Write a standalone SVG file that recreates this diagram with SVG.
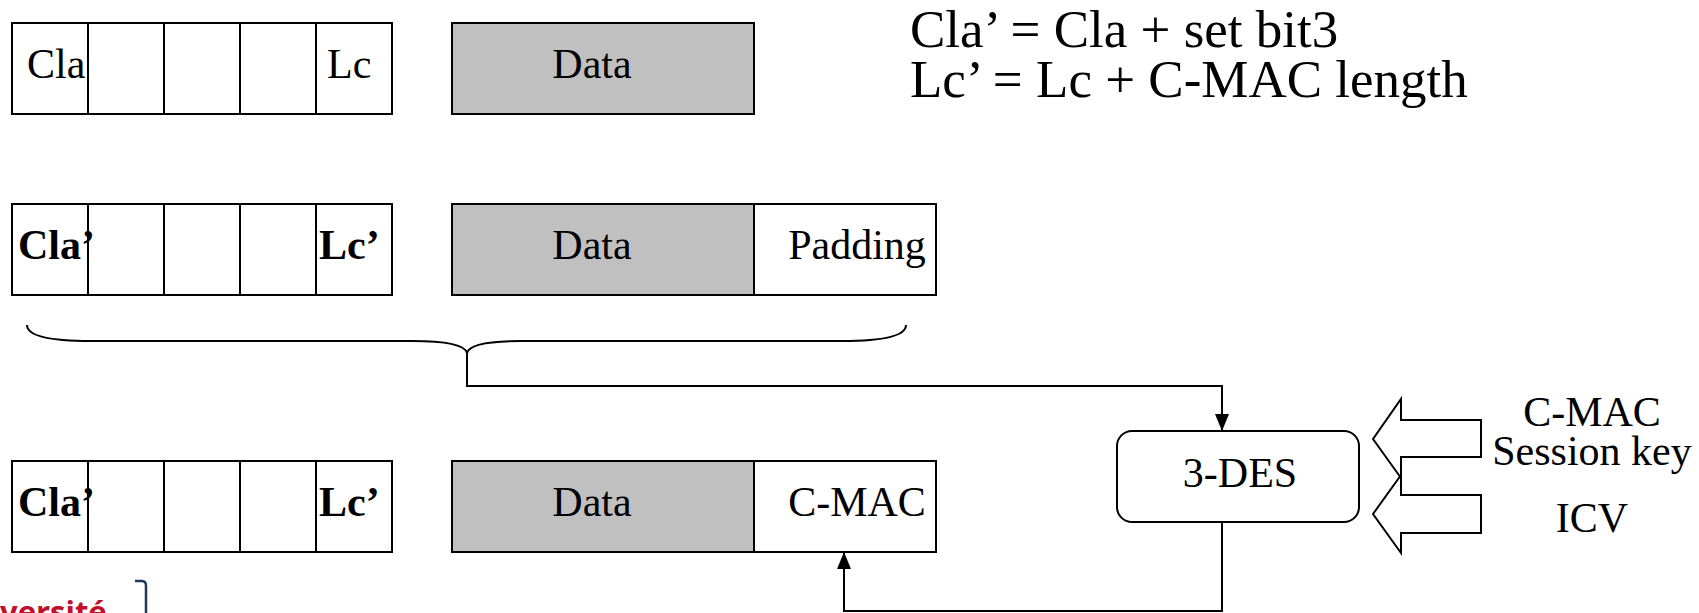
<svg xmlns="http://www.w3.org/2000/svg" width="1699" height="613" viewBox="0 0 1699 613">
<style>
.box{fill:#fff;stroke:#000;stroke-width:2}
.data{fill:#c0c0c0;stroke:#000;stroke-width:2}
.ln{fill:none;stroke:#000;stroke-width:2}
.t{font-family:"Liberation Serif","Times New Roman",serif;font-size:42px;fill:#000}
.b{font-weight:bold}
.big{font-family:"Liberation Serif","Times New Roman",serif;font-size:53px;fill:#000}
.m{text-anchor:middle}
</style>
<defs>
<marker id="ah" markerUnits="userSpaceOnUse" markerWidth="17" markerHeight="14" refX="17" refY="7" orient="auto">
<path d="M0,0 L17,7 L0,14 z" fill="#000"/>
</marker>
</defs>
<rect width="1699" height="613" fill="#fff"/>

<g id="row1">
<rect class="box" x="12" y="23" width="380" height="91"/>
<path class="ln" d="M88,23V114M164,23V114M240,23V114M316,23V114"/>
<text class="t" x="27" y="78">Cla</text>
<text class="t" x="327" y="78">Lc</text>
<rect class="data" x="452" y="23" width="302" height="91"/>
<text class="t m" x="592" y="78">Data</text>
</g>

<g id="formula">
<text class="big" x="910" y="47">Cla’ = Cla + set bit3</text>
<text class="big" x="910" y="97">Lc’ = Lc + C-MAC length</text>
</g>

<g id="row2">
<rect class="box" x="12" y="204" width="380" height="91"/>
<path class="ln" d="M88,204V295M164,204V295M240,204V295M316,204V295"/>
<text class="t b" x="18" y="259">Cla’</text>
<text class="t b" x="319" y="259">Lc’</text>
<rect class="data" x="452" y="204" width="302" height="91"/>
<text class="t m" x="592" y="259">Data</text>
<rect class="box" x="754" y="204" width="182" height="91"/>
<text class="t m" x="857" y="259">Padding</text>
</g>

<g id="brace">
<path class="ln" d="M27,325 C27,336 50,341 91,341 L412,341 C445,341 465,345 467,353 C469,345 489,341 521,341 L842,341 C883,341 906,336 906,325"/>
</g>

<g id="row3">
<rect class="box" x="12" y="461" width="380" height="91"/>
<path class="ln" d="M88,461V552M164,461V552M240,461V552M316,461V552"/>
<text class="t b" x="18" y="516">Cla’</text>
<text class="t b" x="319" y="516">Lc’</text>
<rect class="data" x="452" y="461" width="302" height="91"/>
<text class="t m" x="592" y="516">Data</text>
<rect class="box" x="754" y="461" width="182" height="91"/>
<text class="t m" x="857" y="516">C-MAC</text>
</g>

<g id="des">
<rect class="box" x="1117" y="431" width="242" height="91" rx="15" ry="15"/>
<text class="t m" x="1240" y="487">3-DES</text>
</g>

<g id="inputs">
<polygon class="ln" points="1373,439 1401,399 1401,420 1481,420 1481,457 1401,457 1401,478"/>
<polygon class="ln" points="1373,514 1401,475 1401,495 1481,495 1481,533 1401,533 1401,553"/>
<text class="t m" x="1592" y="426">C-MAC</text>
<text class="t m" x="1592" y="465">Session key</text>
<text class="t m" x="1592" y="532">ICV</text>
</g>

<g id="connectors">
<path class="ln" d="M467,353 V386 H1222 V431" marker-end="url(#ah)"/>
<path class="ln" d="M1222,522 V611 H844 V552" marker-end="url(#ah)"/>
</g>

<g id="logo">
<text x="0" y="623" font-family="'Open Sans','Liberation Sans',sans-serif" font-weight="bold" font-size="31" fill="#c0102a">versité</text>
<path d="M135,581 H142 Q146,581 146,586 V613" fill="none" stroke="#1f3a5a" stroke-width="2.5"/>
</g>
</svg>
